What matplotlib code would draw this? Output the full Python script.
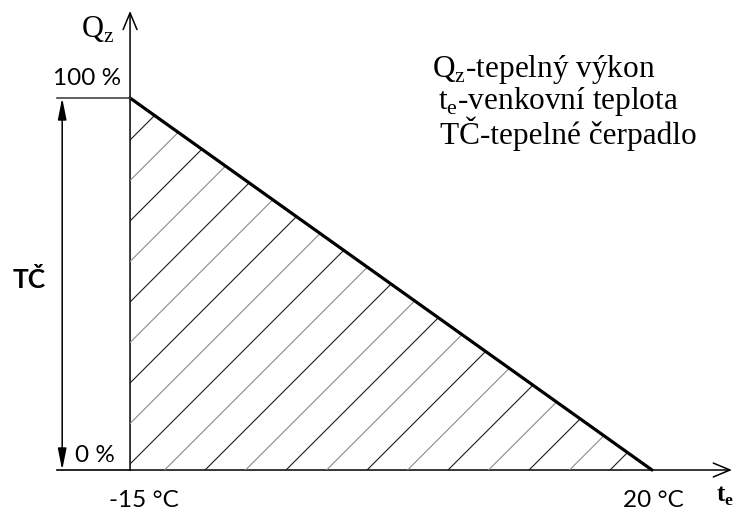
import matplotlib
matplotlib.use("Agg")
import matplotlib.pyplot as plt
import numpy as np
from matplotlib.patches import Polygon, FancyArrowPatch, ArrowStyle

# Outdoor temperature range and heat-pump output share
temps = [-15, 20]          # °C
output = [100, 0]          # %
y_tick_labels = ["100 %", "0 %"]
x_tick_labels = ["-15 °C", "20 °C"]
legend_lines = [
    "Q$_\\mathregular{z}$-tepelný výkon",
    "t$_\\mathregular{e}$-venkovní teplota",
    "TČ-tepelné čerpadlo",
]

W, H, DPI = 733, 510, 100
fig = plt.figure(figsize=(W / DPI, H / DPI), dpi=DPI)
ax = fig.add_axes([0, 0, 1, 1])
ax.set_axis_off()
ax.set_xlim(-23.72, 25.43)
ax.set_ylim(-10.48, 126.61)

SERIF = "Liberation Serif"
SANS = "Lato"

t0, t1 = temps
q0, q1 = output

# hatched triangle under the output line
tri = Polygon([[t0, q0], [t1, q1], [t0, q1]], closed=True, facecolor="none",
              edgecolor="none")
ax.add_patch(tri)
step = 2.7156
slope = 4.009
phase = -15.402
for k in range(-12, 16):
    xb = phase + k * step
    xs = np.array([xb - 40, xb + 40])
    ys = slope * (xs - xb)
    ln, = ax.plot(xs, ys, color="#1c1c1c" if k % 2 == 0 else "#8a8a8a",
                  lw=0.8, solid_capstyle="butt")
    ln.set_clip_path(tri)

# output line
ax.plot(temps, output, color="black", lw=2.3, solid_capstyle="round")

# reference lines at 100 % and 0 %
ax.plot([-19.9, t0], [q0, q0], color="#444444", lw=1.2)
ax.plot([-19.9, t0], [q1, q1], color="black", lw=1.2)

# axes with open arrow heads
open_head = ArrowStyle("->", head_length=12, head_width=5)
ax.add_patch(FancyArrowPatch((t0, q1), (t0, 123.4), arrowstyle=open_head,
                             mutation_scale=1, color="black", lw=1.1,
                             shrinkA=0, shrinkB=0))
ax.add_patch(FancyArrowPatch((t0, q1), (25.36, q1), arrowstyle=open_head,
                             mutation_scale=1, color="black", lw=1.1,
                             shrinkA=0, shrinkB=0))

# double arrow spanning the heat-pump range
dbl = ArrowStyle("<|-|>", head_length=13, head_width=2.6)
ax.add_patch(FancyArrowPatch((-19.55, q1), (-19.55, q0), arrowstyle=dbl,
                             mutation_scale=1, color="black", lw=1.1,
                             shrinkA=0, shrinkB=0))

# tick labels
ax.text(-15.6, 103.8, y_tick_labels[0], family=SANS, fontsize=17.5,
        ha="right", va="baseline")
ax.text(-16.0, 2.4, y_tick_labels[1], family=SANS, fontsize=17.5,
        ha="right", va="baseline")
ax.text(-14.06, -9.68, x_tick_labels[0], family=SANS, fontsize=17.5,
        ha="center", va="baseline")
ax.text(20.1, -9.68, x_tick_labels[1], family=SANS, fontsize=17.5,
        ha="center", va="baseline")
ax.text(-21.77, 49.2, "TČ", family=SANS, fontsize=19, fontweight="bold",
        ha="center", va="baseline")

# axis titles
ax.text(-18.3, 116.4, "Q$_\\mathregular{z}$", family=SERIF, fontsize=22,
        ha="left", va="baseline")
ax.text(24.3, -8.4, "t$_\\mathregular{e}$", family=SERIF, fontsize=18,
        fontweight="bold", ha="left", va="baseline")

# legend text
for (x, y), s in zip([(5.25, 106.0), (5.65, 97.2), (5.75, 88.0)], legend_lines):
    ax.text(x, y, s, family=SERIF, fontsize=22.5, ha="left", va="baseline")

fig.savefig("out.png", dpi=DPI)
